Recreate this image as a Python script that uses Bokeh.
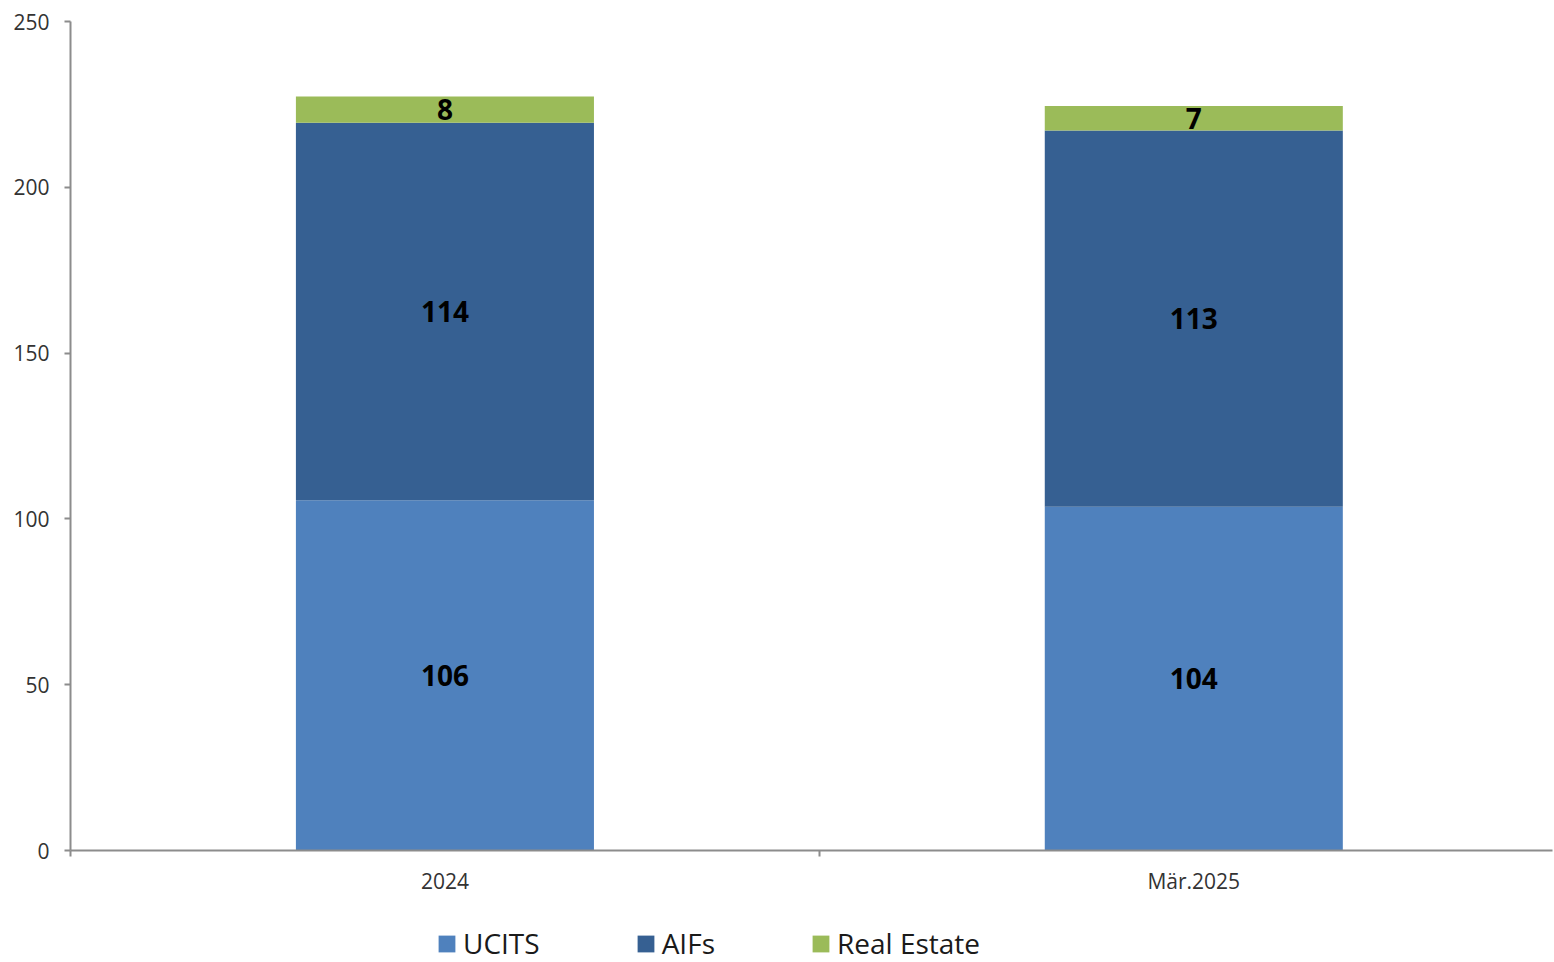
from bokeh.plotting import figure
from bokeh.layouts import column
from bokeh.models import ColumnDataSource, FixedTicker, Legend, LegendItem, Range1d, LabelSet
from bokeh.core.properties import value
from bokeh.embed import file_html
from bokeh.resources import INLINE

categories = ["2024", "Mär.2025"]
ucits = [105.6, 103.7]
aifs = [113.9, 113.4]
real_estate = [7.9, 7.4]
series_names = ["UCITS", "AIFs", "Real Estate"]
colors = ["#4F81BD", "#366092", "#9BBB59"]
y_ticks = [0, 50, 100, 150, 200, 250]

FONT = "Open Sans"

xpos = [i + 0.5 for i in range(len(categories))]
p = figure(width=1554, height=900, output_backend="svg", toolbar_location=None,
           x_range=Range1d(0, 1.979), y_range=Range1d(0, 250),
           min_border_left=70, min_border_right=2, min_border_top=21, min_border_bottom=50)
p.outline_line_color = None
p.grid.grid_line_color = None
p.background_fill_color = "white"

bottoms = [0.0] * len(categories)
label_x, label_y, label_t = [], [], []
for name, vals, col in zip(series_names, [ucits, aifs, real_estate], colors):
    tops = [b + v for b, v in zip(bottoms, vals)]
    src = ColumnDataSource(dict(x=xpos, bottom=bottoms, top=tops))
    p.vbar(x="x", bottom="bottom", top="top", width=0.398, source=src,
           fill_color=col, line_color=None)
    for x, b, t, v in zip(xpos, bottoms, tops, vals):
        label_x.append(x)
        label_y.append((b + t) / 2)
        label_t.append(str(int(round(v))))
    bottoms = tops

lsrc = ColumnDataSource(dict(x=label_x, y=label_y, t=label_t))
p.add_layout(LabelSet(x="x", y="y", text="t", source=lsrc, text_align="center",
                      text_baseline="middle", text_font=value(FONT), text_font_size=value("28px"),
                      text_font_style=value("bold"), text_color=value("black")))

# axes
xt = FixedTicker(ticks=xpos, minor_ticks=list(range(len(categories))))
p.xaxis.ticker = xt
p.xaxis.major_label_overrides = {x: c for x, c in zip(xpos, categories)}
p.xaxis.major_tick_line_color = None
p.xaxis.major_tick_out = 0
p.xaxis.major_tick_in = 0
p.xaxis.minor_tick_line_color = "#8c8c8c"
p.xaxis.minor_tick_line_width = 2
p.xaxis.minor_tick_out = 6
p.xaxis.minor_tick_in = 0
p.xaxis.major_label_standoff = 10
p.xaxis.axis_line_color = "#8c8c8c"
p.xaxis.axis_line_width = 2

p.yaxis.ticker = FixedTicker(ticks=y_ticks)
p.yaxis.minor_tick_line_color = None
p.yaxis.major_tick_line_color = "#8c8c8c"
p.yaxis.major_tick_line_width = 2
p.yaxis.major_tick_out = 6
p.yaxis.major_tick_in = 0
p.yaxis.axis_line_color = "#8c8c8c"
p.yaxis.axis_line_width = 2
p.yaxis.major_label_standoff = 15

for ax in (p.xaxis, p.yaxis):
    ax.major_label_text_font = FONT
    ax.major_label_text_font_size = "21px"
    ax.major_label_text_color = "#333333"

# legend figure below the chart
lg = figure(width=1554, height=62, output_backend="svg", toolbar_location=None,
            x_range=Range1d(0, 1), y_range=Range1d(0, 1),
            min_border_left=0, min_border_right=0, min_border_top=0, min_border_bottom=0)
lg.axis.visible = False
lg.grid.grid_line_color = None
lg.outline_line_color = None
items = []
for name, col in zip(series_names, colors):
    r = lg.rect(x=[-10], y=[-10], width=1, height=1, fill_color=col, line_color=None)
    items.append(LegendItem(label=name, renderers=[r]))
legend = Legend(items=items, orientation="horizontal", location=(366, 0),
                border_line_color=None, background_fill_alpha=0,
                label_text_font=FONT, label_text_font_size="28px",
                label_text_color="#1a1a1a", label_height=18,
                glyph_width=21, glyph_height=21, spacing=95, padding=0, margin=0,
                label_standoff=6)
lg.add_layout(legend, "center")

layout = column(p, lg, spacing=0)
open("out.html", "w").write(file_html(layout, INLINE))
